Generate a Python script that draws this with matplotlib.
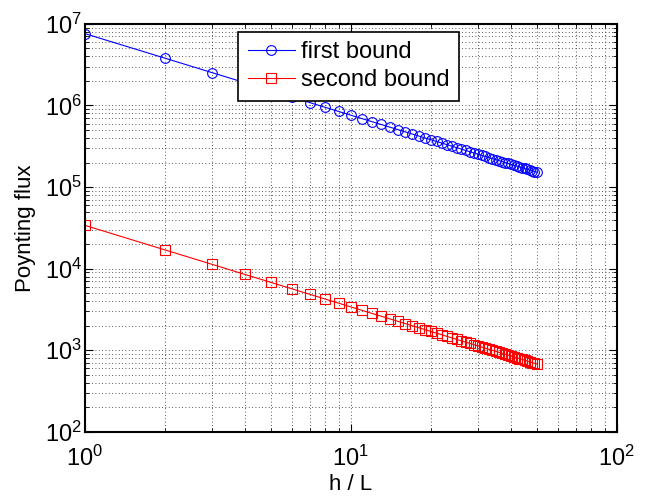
import matplotlib
matplotlib.use("Agg")
import matplotlib.pyplot as plt
from matplotlib.ticker import LogLocator, NullFormatter

plt.rcParams['font.family'] = ['Liberation Sans', 'DejaVu Sans']
plt.rcParams['mathtext.fontset'] = 'custom'
plt.rcParams['mathtext.rm'] = 'Liberation Sans'
plt.rcParams['mathtext.it'] = 'Liberation Sans'

h_over_L = list(range(1, 51))
first_bound = [7600000, 3800000, 2533333, 1900000, 1520000, 1266667, 1085714, 950000, 844444, 760000,
               690909, 633333, 584615, 542857, 506667, 475000, 447059, 422222, 400000, 380000,
               361905, 345455, 330435, 316667, 304000, 292308, 281481, 271429, 262069, 253333,
               245161, 237500, 230303, 223529, 217143, 211111, 205405, 200000, 194872, 190000,
               185366, 180952, 176744, 172727, 168889, 165217, 161702, 158333, 155102, 152000]
second_bound = [34000, 17000, 11333, 8500, 6800, 5667, 4857, 4250, 3778, 3400,
                3091, 2833, 2615, 2429, 2267, 2125, 2000, 1889, 1789, 1700,
                1619, 1545, 1478, 1417, 1360, 1308, 1259, 1214, 1172, 1133,
                1097, 1063, 1030, 1000, 971, 944, 919, 895, 872, 850,
                829, 810, 791, 773, 756, 739, 723, 708, 694, 680]
labels = ["first bound", "second bound"]

fig = plt.figure(figsize=(6.57, 4.97), dpi=100)
ax = fig.add_axes([0.129, 0.131, 0.81, 0.821])

ax.loglog(h_over_L, first_bound, '-o', color='#0000ff', lw=0.8, markersize=7,
          markerfacecolor='none', markeredgewidth=0.8, label=labels[0])
ax.loglog(h_over_L, second_bound, '-s', color='#ff0000', lw=0.8, markersize=6.5,
          markerfacecolor='none', markeredgewidth=0.8, label=labels[1])

ax.set_xlim(1, 100)
ax.set_ylim(1e2, 1e7)
ax.xaxis.set_major_locator(LogLocator(base=10, numticks=10))
ax.yaxis.set_major_locator(LogLocator(base=10, numticks=10))
ax.xaxis.set_minor_locator(LogLocator(base=10, subs=range(2, 10), numticks=20))
ax.yaxis.set_minor_locator(LogLocator(base=10, subs=range(2, 10), numticks=20))
ax.xaxis.set_minor_formatter(NullFormatter())
ax.yaxis.set_minor_formatter(NullFormatter())

ax.grid(True, which='both', linestyle=(0, (1, 3)), color='#222222', linewidth=0.6)
ax.tick_params(which='both', direction='in', top=True, right=True, labelsize=17)
ax.tick_params(axis='x', which='major', pad=10)
ax.tick_params(axis='y', which='major', pad=2)
ax.tick_params(which='major', length=6, width=0.8)
ax.tick_params(which='minor', length=3, width=0.6)
for s in ax.spines.values():
    s.set_linewidth(1.5)

ax.set_xlabel("h / L", fontsize=16, labelpad=2)
ax.set_ylabel("Poynting flux", fontsize=16, labelpad=6)

leg = ax.legend(loc='upper center', bbox_to_anchor=(0.496, 0.992), fontsize=17,
                frameon=True, fancybox=False, framealpha=1.0, handlelength=2.0,
                borderpad=0.4, labelspacing=0.25, handletextpad=0.25, borderaxespad=0.2)
leg.get_frame().set_edgecolor('black')
leg.get_frame().set_linewidth(1.2)

fig.savefig("out.png", dpi=100)
